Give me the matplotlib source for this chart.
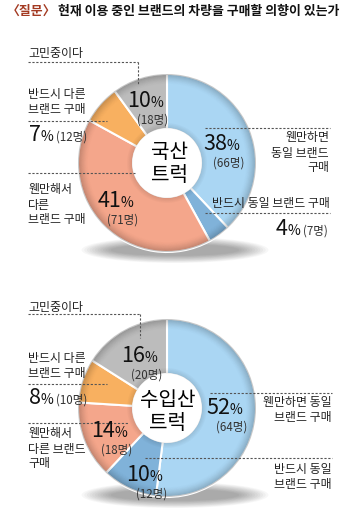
import matplotlib
matplotlib.use("Agg")
import matplotlib.pyplot as plt
from matplotlib.patches import Wedge, Ellipse, Circle
import numpy as np

plt.rcParams['font.family'] = ['Noto Sans CJK KR', 'DejaVu Sans']

# ---- data ----
categories = ["웬만하면 동일 브랜드 구매", "반드시 동일 브랜드 구매", "웬만해서 다른 브랜드 구매",
              "반드시 다른 브랜드 구매", "고민중이다"]
domestic_pct = [38, 4, 41, 7, 10]
domestic_n = [66, 7, 71, 12, 18]
import_pct = [52, 10, 14, 8, 16]
import_n = [64, 12, 18, 10, 20]
colors = ["#aad6f3", "#80b2d9", "#f4a68b", "#f8b060", "#bcbcbc"]

W, H = 350, 522
fig = plt.figure(figsize=(W / 100, H / 100), dpi=100)
ax = fig.add_axes([0, 0, 1, 1])

def Y(y):
    return H - y

R = 89
RIN = 34

def donut(cx, cy, vals):
    c = (cx, Y(cy))
    for k in range(12):
        ax.add_patch(Ellipse((cx + 8, Y(cy) - R + 2), 2 * R * (1.05 - k * 0.03), 26 * (1 - k * 0.05),
                             color="black", alpha=0.03, lw=0, zorder=1))
    ax.pie(vals, colors=colors, startangle=90, counterclock=False, center=c, radius=R,
           wedgeprops=dict(width=R - RIN, edgecolor="white", linewidth=1.5), frame=True)
    n = 10
    for i in range(n):
        r_out = R - i * 1.0
        ax.add_patch(Wedge(c, r_out, 0, 360, width=1.0, color="black",
                           alpha=0.22 * (1 - i / n) ** 1.5, lw=0, zorder=3))
    for i in range(6):
        ax.add_patch(Wedge(c, RIN + 1 + i * 1.0, 0, 360, width=1.0, color="black",
                           alpha=0.12 * (1 - i / 6), lw=0, zorder=3))
    ax.add_patch(Circle(c, RIN, color="white", zorder=4))

donut(167, 163, domestic_pct)
donut(167, 408, import_pct)

ax.set_xlim(0, W)
ax.set_ylim(0, H)
ax.set_aspect("equal")
ax.axis("off")

dash = dict(color="#555555", lw=0.8, ls=(0, (2, 1.5)), zorder=6)

def hline(x0, x1, y):
    ax.plot([x0, x1], [Y(y), Y(y)], **dash)

def vline(x, y0, y1):
    ax.plot([x, x], [Y(y0), Y(y1)], **dash)

LBL = 8.6
NUM = 15.5
PCT = 10
SUB = 8.3

fig.canvas.draw()
rend = fig.canvas.get_renderer()

def right_edge(t):
    return ax.transData.inverted().transform((t.get_window_extent(rend).x1, 0))[0]

def label(x, y, s, ha="left"):
    ax.text(x, Y(y), s, fontsize=LBL, ha=ha, va="center", linespacing=1.2, color="#222222", zorder=7)

def pct(x, y, v, n=None, inline=False):
    if inline:
        t = ax.text(x, Y(y), f"{v}", fontsize=NUM, ha="left", va="baseline", color="#111111", zorder=7)
        x2 = right_edge(t)
        t2 = ax.text(x2 - 0.5, Y(y), "%", fontsize=PCT, ha="left", va="baseline", color="#111111", zorder=7)
        x3 = right_edge(t2)
        ax.text(x3 + 3, Y(y), f"({n}명)", fontsize=SUB, ha="left", va="baseline", color="#333333", zorder=7)
    else:
        ax.text(x, Y(y), f"{v}", fontsize=NUM, ha="right", va="baseline", color="#111111", zorder=7)
        ax.text(x - 0.5, Y(y), "%", fontsize=PCT, ha="left", va="baseline", color="#111111", zorder=7)
        ax.text(x + 2, Y(y + 17), f"({n}명)", fontsize=SUB, ha="center", va="baseline", color="#333333", zorder=7)

# title
t = ax.text(7, Y(11), "〈질문〉", fontsize=9.3, color="#a33a22", ha="left", va="center", fontweight="bold")
xq = right_edge(t)
ax.text(xq + 2, Y(11), "현재 이용 중인 브랜드의 차량을 구매할 의향이 있는가", fontsize=9.3, color="#111111",
        ha="left", va="center", fontweight="bold")

# ---- top donut labels ----
label(28, 53, "고민중이다")
hline(28, 138, 62); vline(138, 62, 84)
label(28, 102, "반드시 다른\n브랜드 구매")
hline(28, 107, 121)
pct(29, 141, domestic_pct[3], domestic_n[3], inline=True)
hline(28, 135, 173)
label(28, 205, "웬만해서\n다른\n브랜드 구매")
pct(121, 207, domestic_pct[2], domestic_n[2])
pct(151, 107, domestic_pct[4], domestic_n[4])
pct(227, 150, domestic_pct[0], domestic_n[0])
hline(205, 330, 128)
label(329, 153, "웬만하면\n동일 브랜드\n구매", ha="right")
label(330, 203, "반드시 동일 브랜드 구매", ha="right")
hline(205, 330, 213)
pct(276, 235, domestic_pct[1], domestic_n[1], inline=True)
ax.text(169, Y(164), "국산\n트럭", fontsize=14.5, ha="center", va="center", linespacing=1.15, zorder=8)

# ---- bottom donut labels ----
label(28, 307, "고민중이다")
hline(28, 140, 314); vline(140, 314, 338)
pct(145, 362, import_pct[4], import_n[4])
label(28, 366, "반드시 다른\n브랜드 구매")
hline(28, 107, 384)
pct(29, 404, import_pct[3], import_n[3], inline=True)
hline(28, 128, 423)
label(28, 449, "웬만해서\n다른 브랜드\n구매")
pct(115, 437, import_pct[2], import_n[2])
pct(150, 481, import_pct[1], import_n[1])
pct(230, 414, import_pct[0], import_n[0])
hline(210, 332, 393)
label(332, 410, "웬만하면 동일\n브랜드 구매", ha="right")
hline(145, 332, 458)
label(332, 477, "반드시 동일\n브랜드 구매", ha="right")
ax.text(168, Y(412), "수입산\n트럭", fontsize=14.5, ha="center", va="center", linespacing=1.15, zorder=8)

fig.savefig("out.png", dpi=100)
